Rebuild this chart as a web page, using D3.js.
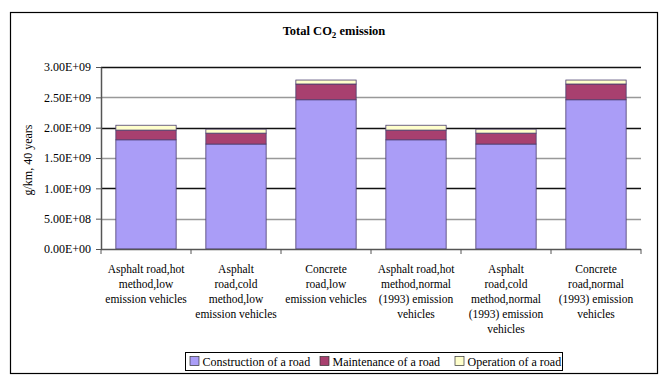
<!DOCTYPE html>
<html>
<head>
<meta charset="utf-8">
<script src="https://cdn.jsdelivr.net/npm/d3@7"></script>
<style>
  body { margin: 0; background: #fff; }
  text { font-family: "Liberation Serif", "Times New Roman", serif; }
</style>
</head>
<body>
<div id="chart"></div>
<script>
// categories (wrapped like the original)
var categories = [
  ["Asphalt road,hot", "method,low", "emission vehicles"],
  ["Asphalt", "road,cold", "method,low", "emission vehicles"],
  ["Concrete", "road,low", "emission vehicles"],
  ["Asphalt road,hot", "method,normal", "(1993) emission", "vehicles"],
  ["Asphalt", "road,cold", "method,normal", "(1993) emission", "vehicles"],
  ["Concrete", "road,normal", "(1993) emission", "vehicles"]
];
var seriesNames = ["Construction of a road", "Maintenance of a road", "Operation of a road"];
var construction = [1.80e9, 1.73e9, 2.46e9, 1.80e9, 1.73e9, 2.46e9];
var maintenance  = [0.16e9, 0.18e9, 0.26e9, 0.16e9, 0.18e9, 0.26e9];
var operation    = [0.08e9, 0.065e9, 0.065e9, 0.08e9, 0.065e9, 0.065e9];
var yTicks = [0, 5e8, 1e9, 1.5e9, 2e9, 2.5e9, 3e9];

var width = 668, height = 383;
var colors = ["#aa9df7", "#a8406f", "#ffffcc"];

var svg = d3.select("#chart").append("svg")
  .attr("width", width)
  .attr("height", height);

svg.append("rect").attr("width", width).attr("height", height).attr("fill", "#fff");

// outer frame
svg.append("rect")
  .attr("x", 10.5).attr("y", 12.5)
  .attr("width", 647).attr("height", 361)
  .attr("fill", "none").attr("stroke", "#000").attr("stroke-width", 1.2);

// title
var title = svg.append("text")
  .attr("x", 334).attr("y", 35)
  .attr("text-anchor", "middle")
  .attr("font-size", 12.5).attr("font-weight", "bold");
title.append("tspan").text("Total CO");
title.append("tspan").attr("font-size", 9).attr("dy", 3).text("2");
title.append("tspan").attr("dy", -3).text(" emission");

var plotLeft = 101, plotRight = 641, plotTop = 67, plotBottom = 249;

var x = d3.scaleBand()
  .domain(d3.range(categories.length))
  .range([plotLeft, plotRight])
  .paddingInner(0.33)
  .paddingOuter(0.165);

var y = d3.scaleLinear().domain([0, 3e9]).range([plotBottom, plotTop]);

// gridlines
svg.append("g").selectAll("line")
  .data(yTicks.slice(1))
  .enter().append("line")
  .attr("x1", plotLeft).attr("x2", plotRight)
  .attr("y1", function(d) { return Math.round(y(d)) + 0.5; })
  .attr("y2", function(d) { return Math.round(y(d)) + 0.5; })
  .attr("stroke", function(d, i) { return i % 2 === 0 ? "#999" : "#111"; })
  .attr("stroke-width", 1.3);

// stacked data
var rows = categories.map(function(c, i) {
  return { i: i, c: construction[i], m: maintenance[i], o: operation[i] };
});
var stack = d3.stack().keys(["c", "m", "o"]);
var layers = stack(rows);

svg.append("g").selectAll("g")
  .data(layers)
  .enter().append("g")
  .attr("fill", function(d, i) { return colors[i]; })
  .selectAll("rect")
  .data(function(d) { return d; })
  .enter().append("rect")
  .attr("x", function(d) { return x(d.data.i); })
  .attr("width", x.bandwidth())
  .attr("y", function(d) { return y(d[1]); })
  .attr("height", function(d) { return y(d[0]) - y(d[1]); })
  .attr("stroke", "#4a3d6e")
  .attr("stroke-width", 0.8);

// y axis
var yAxis = svg.append("g")
  .attr("transform", "translate(" + plotLeft + ",0)")
  .call(d3.axisLeft(y).tickValues(yTicks).tickSize(5).tickSizeOuter(0)
    .tickFormat(function(d) {
      var s = d3.format(".2e")(d).toUpperCase();
      return s.replace(/E([+-])(\d)$/, "E$10$2");
    }));
yAxis.select(".domain").attr("stroke", "#555").attr("stroke-width", 1.5);
yAxis.selectAll(".tick line").attr("stroke", "#555");
yAxis.selectAll("text").attr("font-size", 12).attr("fill", "#000")
  .attr("font-family", "Liberation Serif, serif").attr("x", -10);

// x axis
var xAxis = svg.append("g")
  .attr("transform", "translate(0," + plotBottom + ")");
xAxis.append("line")
  .attr("x1", plotLeft).attr("x2", plotRight)
  .attr("y1", 0.5).attr("y2", 0.5)
  .attr("stroke", "#555").attr("stroke-width", 1.5);
var step = x.step();
xAxis.selectAll("line.tk")
  .data(d3.range(categories.length + 1))
  .enter().append("line")
  .attr("class", "tk")
  .attr("x1", function(d) { return plotLeft + d * step; })
  .attr("x2", function(d) { return plotLeft + d * step; })
  .attr("y1", 0).attr("y2", 5)
  .attr("stroke", "#555");

var labels = svg.append("g").selectAll("text")
  .data(categories)
  .enter().append("text")
  .attr("text-anchor", "middle")
  .attr("font-size", 11.5)
  .attr("transform", function(d, i) {
    return "translate(" + (x(i) + x.bandwidth() / 2) + ",273)";
  });
labels.selectAll("tspan")
  .data(function(d) { return d; })
  .enter().append("tspan")
  .attr("x", 0)
  .attr("y", function(d, i) { return i * 15; })
  .text(function(d) { return d; });

// y axis title
svg.append("text")
  .attr("transform", "translate(32,160) rotate(-90)")
  .attr("text-anchor", "middle")
  .attr("font-size", 12)
  .text("g/km, 40 years");

// legend
var legend = svg.append("g");
legend.append("rect")
  .attr("x", 185.5).attr("y", 352.5)
  .attr("width", 377).attr("height", 18)
  .attr("fill", "#fff").attr("stroke", "#000");
var legX = [190, 320, 455];
var items = legend.selectAll("g.item")
  .data(seriesNames)
  .enter().append("g")
  .attr("transform", function(d, i) { return "translate(" + legX[i] + ",356)"; });
items.append("rect")
  .attr("width", 9).attr("height", 9).attr("y", 0.5)
  .attr("fill", function(d, i) { return colors[i]; })
  .attr("stroke", "#333").attr("stroke-width", 0.7);
items.append("text")
  .attr("x", 12.5).attr("y", 9.5)
  .attr("font-size", 12)
  .text(function(d) { return d; });
</script>
</body>
</html>
